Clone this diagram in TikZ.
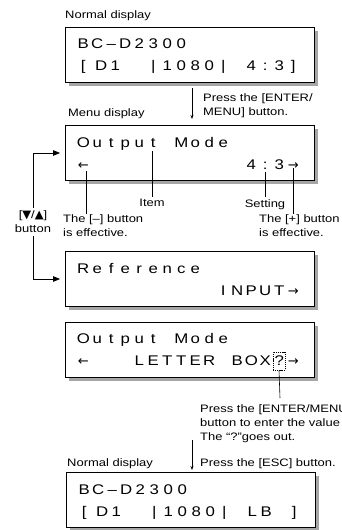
\documentclass[tikz,border=0pt]{standalone}
\usepackage{fontspec}
\setmainfont{Liberation Sans}[FakeStretch=1.2]
\newfontfamily\symfont{DejaVu Sans}
\usetikzlibrary{arrows.meta,shadows}

\newlength\lcdw
\setlength\lcdw{14pt}
\def\lcdend{}
\def\lcdstep#1{\ifx#1\lcdend\else\makebox[\lcdw]{#1}\expandafter\lcdstep\fi}
\newcommand\lcd[1]{\lcdstep#1\lcdend}
\newcommand\lcdD{\hspace*{8pt}D}
\newcommand\lcdI{\hspace*{8pt}1}
\newcommand\lcdL{{\symfont\fontsize{13}{13}\selectfont ←}}
\newcommand\lcdR{{\symfont\fontsize{13}{13}\selectfont →}}

\begin{document}
\begin{tikzpicture}[x=1pt, y=-1pt,
    screen/.style = {draw, line width=0.8pt, fill=white, minimum width=249pt, minimum height=55pt, inner sep=0pt,
      drop shadow={shadow xshift=3.5pt, shadow yshift=-3.5pt, fill=black!35, opacity=1}},
    row/.style = {anchor=base west, inner sep=0pt, font=\fontsize{14}{16}\selectfont},
    note/.style = {inner sep=0pt, align=left, font=\fontsize{10.8}{14}\selectfont},
    tick/.style = {line width=0.6pt},
    press/.style = {line width=0.6pt, -{Stealth[length=4pt,width=3pt]}},
    updown/.style = {line width=0.8pt, -{Triangle[length=7pt,width=5.5pt]}}]
    \useasboundingbox (0,0) rectangle (342,530);

    \node[note, anchor=base west] (nd1) at (65,18) {Normal display};
    \node[screen] (box1) at (190,54.5) {};
    \node[row] (r1a) at ([shift={(11,22)}]box1.north west) {\lcd{BC–D2300}};
    \node[row] (r1b) at ([shift={(11,44)}]box1.north west) {\lcd{[\lcdD\lcdI~~|1080|~4:3]}};

    \coordinate (a1s) at (192,88);
    \coordinate (a1e) at (192,119);
    \draw[press] (a1s) -- (a1e);
    \node[note, anchor=north west] (p1) at (203,93) {Press the [ENTER/\\MENU] button.};
    \node[note, anchor=base west] (md) at (68,116) {Menu display};

    \node[screen] (box2) at (190,153) {};
    \node[row] (r2a) at ([shift={(11,22)}]box2.north west) {\lcd{Output~Mode}};
    \node[row] (r2b) at ([shift={(11,44)}]box2.north west) {\lcd{\lcdL~~~~~~~~~~~4:3\lcdR}};

    \coordinate (minus) at (86,171);
    \coordinate (item) at (152,151);
    \coordinate (sett) at (265,172);
    \coordinate (plus) at (293,168);
    \node[note, anchor=north west] (mtxt) at (63,214) {The [–] button\\is effective.};
    \node[note, anchor=north, inner sep=2pt] (itxt) at (152,197) {Item};
    \node[note, anchor=north, inner sep=2pt] (stxt) at (265,197) {Setting};
    \node[note, anchor=north west] (ptxt) at (259,214) {The [+] button\\is effective.};
    \draw[tick] (minus) -- (minus |- mtxt.north);
    \draw[tick] (item) -- (itxt.north);
    \draw[tick] (sett) -- (stxt.north);
    \draw[tick] (plus) -- (plus |- ptxt.north);

    \node[note, align=center, inner sep=3pt] (btn) at (33,222) {[{\symfont\fontsize{11.5}{9}\selectfont ▼}/{\symfont\fontsize{11.5}{9}\selectfont ▲}]\\button};

    \node[screen] (box3) at (190,279) {};
    \node[row] (r3a) at ([shift={(11,22)}]box3.north west) {\lcd{Reference}};
    \node[row] (r3b) at ([shift={(11,44)}]box3.north west) {\lcd{~~~~~~~~~~INPUT\lcdR}};

    \draw[updown, shorten >=5pt] (btn.north) |- (box2.west);
    \draw[updown, shorten >=5pt] (btn.south) |- (box3.west);

    \node[screen] (box4) at (190,349.5) {};
    \node[row] (r4a) at ([shift={(11,22)}]box4.north west) {\lcd{Output~Mode}};
    \node[row] (r4b) at ([shift={(11,44)}]box4.north west) {\lcd{\lcdL~~~LETTER~BOX?\lcdR}};
    \node[draw, dash pattern=on 1.2pt off 0.9pt, line width=0.5pt, minimum width=12pt, minimum height=18pt, inner sep=0pt] (q) at (279,361) {};

    \coordinate (qe) at (280,398);
    \draw[tick] (q.south) -- (qe);
    \node[note, anchor=north west] (etxt) at (200,404) {Press the [ENTER/MENU\\button to enter the value\\The “?”goes out.};

    \coordinate (a2s) at (192,440);
    \coordinate (a2e) at (192,470);
    \draw[press] (a2s) -- (a2e);
    \node[note, anchor=base west] (nd2) at (67,466) {Normal display};
    \node[note, anchor=base west] (esc) at (200,466) {Press the [ESC] button.};

    \node[screen] (box5) at (191,500) {};
    \node[row] (r5a) at ([shift={(11,22)}]box5.north west) {\lcd{BC–D2300}};
    \node[row] (r5b) at ([shift={(11,44)}]box5.north west) {\lcd{[\lcdD\lcdI~~|1080|~LB~]}};
\end{tikzpicture}
\end{document}
